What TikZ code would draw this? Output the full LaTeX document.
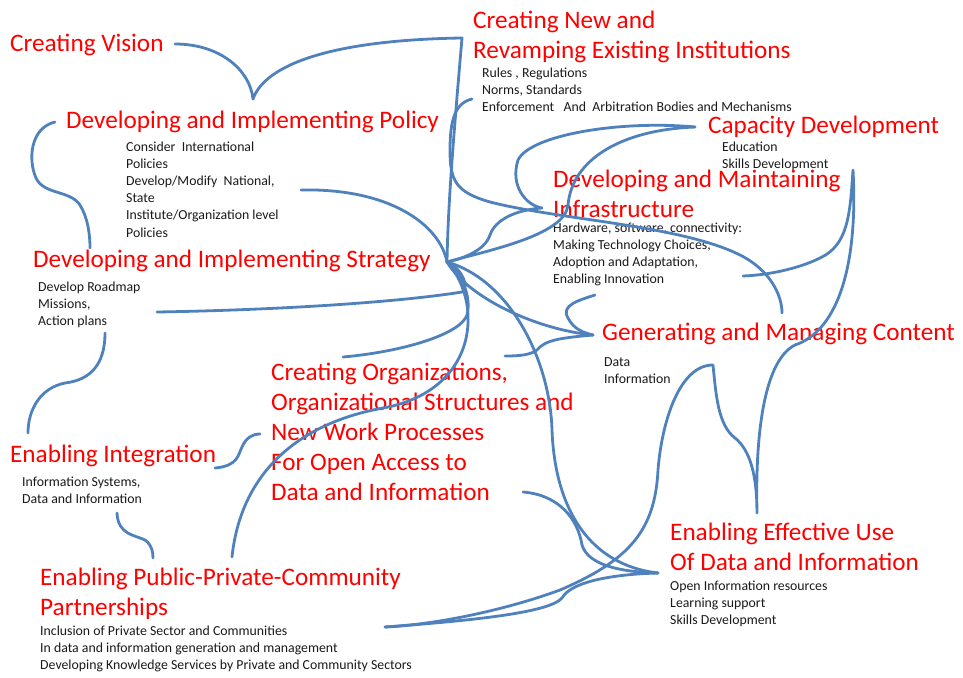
\documentclass[tikz,border=0pt]{standalone}
\usepackage{fontspec}
\setmainfont{Carlito}
\usepackage{xcolor}
\definecolor{linkblue}{HTML}{4F81BD}
\definecolor{headred}{HTML}{FF0000}

\begin{document}
\begin{tikzpicture}[x=1pt,y=-1pt,
	head/.style={anchor=base west,inner sep=0pt,text=headred,align=left,font=\fontsize{25.2}{30}\selectfont},
	note/.style={anchor=base west,inner sep=0pt,text=black!90,align=left,font=\fontsize{13.8}{17}\selectfont},
	link/.style={draw=linkblue,line width=2.8pt,line cap=round,line join=round}]
	\useasboundingbox (0,0) rectangle (963,677);
	% multi-line nodes sit on the baseline of their last line
	\node[head] (vision) at (10,52) {Creating Vision};
	\node[head] (institutions) at (473,59) {Creating New and\\Revamping Existing Institutions};
	\node[note] (institutionsNote) at (482,111) {Rules , Regulations\\Norms, Standards\\Enforcement \ \ And \ Arbitration Bodies and Mechanisms};
	\node[head] (policy) at (66,128) {Developing and Implementing Policy};
	\node[note,font=\fontsize{13.8}{17.2}\selectfont] (policyNote) at (126,237) {Consider \ International\\Policies\\Develop/Modify \ National,\\State\\Institute/Organization level\\Policies};
	\node[head] (capacity) at (708,133) {Capacity Development};
	\node[note] (capacityNote) at (722,168) {Education\\Skills Development};
	\node[head] (infra) at (553,217) {Developing and Maintaining\\Infrastructure};
	\node[note] (infraNote) at (553,283) {Hardware, software, connectivity:\\Making Technology Choices,\\Adoption and Adaptation,\\Enabling Innovation};
	\node[head] (strategy) at (33,267) {Developing and Implementing Strategy};
	\node[note] (strategyNote) at (38,325) {Develop Roadmap\\Missions,\\Action plans};
	\node[head] (content) at (602,340) {Generating and Managing Content};
	\node[note] (contentNote) at (604,383) {Data\\Information};
	\node[head] (orgs) at (271,500) {Creating Organizations,\\Organizational Structures and\\New Work Processes\\For Open Access to\\Data and Information};
	\node[head] (integration) at (10,462) {Enabling Integration};
	\node[note] (integrationNote) at (22,503) {Information Systems,\\Data and Information};
	\node[head] (use) at (670,570) {Enabling Effective Use\\Of Data and Information};
	\node[note] (useNote) at (670,624) {Open Information resources\\Learning support\\Skills Development};
	\node[head] (ppp) at (40,615) {Enabling Public-Private-Community\\Partnerships};
	\node[note] (pppNote) at (40,669) {Inclusion of Private Sector and Communities\\In data and information generation and management\\Developing Knowledge Services by Private and Community Sectors};
	%
	\coordinate (hub) at (447,262);
	\coordinate (visionCusp) at (253,99);
	\coordinate (corner) at (462,38);
	\coordinate (infraCusp) at (542,208);
	\coordinate (capTip) at (695,127);
	\coordinate (skillsCusp) at (853,170);
	\coordinate (contentTip) at (593,335);
	\coordinate (dataCusp) at (713,365);
	\coordinate (useTop) at (757,513);
	\coordinate (useTip) at (658,573);
	\coordinate (pppEnd) at (385,627);
	%
	\draw[link] (175,44) .. controls (220,44) and (250,70) .. (visionCusp)
		.. controls (265,65) and (330,40) .. (corner)
		.. controls (455,120) and (448,200) .. (hub);
	\draw[link] (55,122) .. controls (30,128) and (28,160) .. (36,178)
		.. controls (44,195) and (70,190) .. (80,205)
		.. controls (88,218) and (90,235) .. (90,248);
	\draw[link] (301,190) .. controls (390,188) and (440,225) .. (hub);
	\draw[link] (472,99) .. controls (455,103) and (450,120) .. (450,150)
		.. controls (450,180) and (455,192) .. (490,202)
		.. controls (560,220) and (680,225) .. (740,255)
		.. controls (770,270) and (782,295) .. (782,313);
	\draw[link] (capTip) .. controls (620,120) and (530,135) .. (518,160)
		.. controls (510,185) and (525,205) .. (infraCusp)
		.. controls (515,210) and (495,220) .. (490,235)
		.. controls (485,250) and (465,258) .. (hub);
	\draw[link] (capTip) .. controls (620,130) and (572,160) .. (568,205)
		.. controls (565,235) and (490,250) .. (hub);
	\draw[link] (157,312) .. controls (280,310) and (400,302) .. (462,292)
		.. controls (470,288) and (462,268) .. (hub);
	\draw[link] (343,357) .. controls (400,352) and (460,335) .. (467,315)
		.. controls (472,295) and (460,272) .. (hub);
	\draw[link] (105,333) .. controls (105,365) and (90,380) .. (65,383)
		.. controls (40,388) and (28,410) .. (28,433);
	\draw[link] (232,557) .. controls (240,480) and (290,425) .. (383,408)
		.. controls (440,398) and (470,360) .. (468,315)
		.. controls (467,290) and (455,270) .. (hub);
	\draw[link] (215,468) .. controls (238,466) and (238,455) .. (242,447)
		.. controls (246,438) and (252,434) .. (260,434);
	\draw[link] (117,513) .. controls (118,535) and (135,535) .. (145,540)
		.. controls (152,545) and (153,552) .. (153,558);
	\draw[link] (595,295) .. controls (580,300) and (560,305) .. (568,318)
		.. controls (574,330) and (585,333) .. (contentTip);
	\draw[link] (contentTip) .. controls (560,338) and (545,340) .. (537,350)
		.. controls (530,355) and (520,356) .. (505,356);
	\draw[link] (contentTip) .. controls (540,330) and (470,300) .. (hub);
	\draw[link] (hub) .. controls (510,280) and (550,360) .. (552,430)
		.. controls (555,510) and (590,565) .. (useTip);
	\draw[link] (523,492) .. controls (560,495) and (578,520) .. (582,545)
		.. controls (588,565) and (620,572) .. (useTip);
	\draw[link] (pppEnd) .. controls (480,620) and (550,612) .. (562,598)
		.. controls (572,580) and (620,574) .. (useTip);
	\draw[link] (743,276) .. controls (770,275) and (800,268) .. (820,258)
		.. controls (848,245) and (850,215) .. (skillsCusp)
		.. controls (858,260) and (840,330) .. (795,345)
		.. controls (765,360) and (755,430) .. (useTop)
		.. controls (757,475) and (750,450) .. (735,438)
		.. controls (718,425) and (716,395) .. (dataCusp)
		.. controls (680,365) and (662,420) .. (658,470)
		.. controls (655,530) and (630,560) .. (560,590)
		.. controls (500,612) and (430,625) .. (pppEnd);
\end{tikzpicture}
\end{document}
